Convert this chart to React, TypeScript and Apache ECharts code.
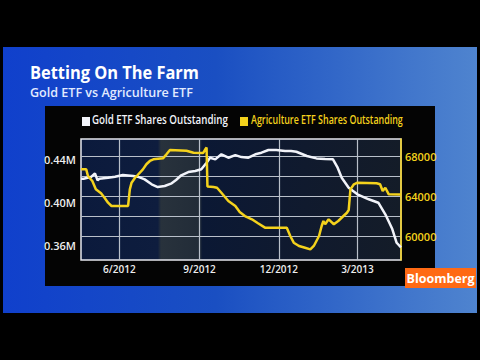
import React, { useEffect, useRef } from "react";
import * as echarts from "echarts";

const goldDates = [
  "2012-04-18", "2012-04-21", "2012-04-30", "2012-05-04", "2012-05-07", "2012-05-09", "2012-05-19", "2012-05-27",
  "2012-06-05", "2012-06-17", "2012-06-22", "2012-06-30", "2012-07-08", "2012-07-15", "2012-07-23", "2012-07-31",
  "2012-08-05", "2012-08-11", "2012-08-19", "2012-08-27", "2012-09-03", "2012-09-09", "2012-09-13", "2012-09-19",
  "2012-09-26", "2012-10-04", "2012-10-12", "2012-10-19", "2012-10-27", "2012-11-04", "2012-11-11", "2012-11-19",
  "2012-11-28", "2012-12-08", "2012-12-15", "2012-12-21", "2013-01-02", "2013-01-13", "2013-01-23", "2013-02-01",
  "2013-02-06", "2013-02-11", "2013-02-19", "2013-03-01", "2013-03-14", "2013-03-25", "2013-04-02", "2013-04-10",
  "2013-04-15", "2013-04-20",
];
const goldValues = [
  0.4219, 0.4219, 0.4238, 0.4269, 0.4204, 0.4219, 0.4228, 0.4238,
  0.4253, 0.4244, 0.4238, 0.4213, 0.4167, 0.4141, 0.4151, 0.4176,
  0.4207, 0.4251, 0.4281, 0.4291, 0.4307, 0.4368, 0.4415, 0.44,
  0.4447, 0.4415, 0.444, 0.4421, 0.4415, 0.4447, 0.4462, 0.4487,
  0.4487, 0.4477, 0.4477, 0.4471, 0.4431, 0.4409, 0.4403, 0.44,
  0.4328, 0.4228, 0.4135, 0.4073, 0.4027, 0.3995, 0.3887, 0.3749,
  0.3621, 0.3577,
];

const agriDates = [
  "2012-04-18", "2012-04-24", "2012-04-26", "2012-05-01", "2012-05-05", "2012-05-11", "2012-05-15", "2012-05-19",
  "2012-05-23", "2012-06-11", "2012-06-13", "2012-06-15", "2012-06-19", "2012-06-22", "2012-06-28", "2012-07-02",
  "2012-07-06", "2012-07-10", "2012-07-21", "2012-07-25", "2012-07-29", "2012-08-17", "2012-08-25", "2012-09-05",
  "2012-09-08", "2012-09-09", "2012-09-10", "2012-09-17", "2012-09-21", "2012-09-26", "2012-10-04", "2012-10-12",
  "2012-10-17", "2012-10-23", "2012-10-31", "2012-11-07", "2012-11-15", "2012-12-10", "2012-12-14", "2012-12-18",
  "2012-12-24", "2012-12-30", "2013-01-06", "2013-01-10", "2013-01-16", "2013-01-19", "2013-01-21", "2013-01-23",
  "2013-01-27", "2013-02-02", "2013-02-07", "2013-02-13", "2013-02-17", "2013-02-19", "2013-02-21", "2013-02-25",
  "2013-03-01", "2013-03-23", "2013-03-27", "2013-03-30", "2013-04-02", "2013-04-06", "2013-04-20",
];
const agriValues = [
  66730, 66730, 66060, 65560, 64720, 64320, 63880, 63380,
  63050, 63050, 64720, 65390, 65890, 66160, 66730, 67240,
  67570, 67740, 67840, 68240, 68670, 68600, 68400, 68370,
  68800, 68930, 65000, 64960, 64880, 64380, 63550, 63050,
  62440, 62040, 61710, 61310, 60870, 60870, 60030, 59360,
  59030, 58880, 58690, 59030, 60030, 61040, 61540, 61210,
  61710, 61210, 61540, 62040, 62370, 62640, 64720, 65230,
  65390, 65330, 65230, 64550, 64880, 64220, 64200,
];

const xRange = ["2012-04-18", "2013-04-20"];
const xTickDates = ["2012-06-01", "2012-09-01", "2012-12-01", "2013-03-01"];
const xTickLabels = ["6/2012", "9/2012", "12/2012", "3/2013"];
const leftTicks = [0.36, 0.4, 0.44];
const rightGridTicks = [60000, 62000, 64000, 66000, 68000];
const rightLabelTicks = [60000, 64000, 68000];

const titleText = "Betting On The Farm";
const subtitleText = "Gold ETF vs Agriculture ETF";
const goldName = "Gold ETF Shares Outstanding";
const agriName = "Agriculture ETF Shares Outstanding";
const brandText = "Bloomberg";

const WHITE = "#f2f4fa";
const YELLOW = "#f4d21c";

const ts = (d: string) => Date.UTC(+d.slice(0, 4), +d.slice(5, 7) - 1, +d.slice(8, 10));

export default function App() {
  const ref = useRef<HTMLDivElement>(null);
  useEffect(() => {
    if (!ref.current) return;
    const chart = echarts.init(ref.current, null, { renderer: "svg" });
    const xTickTs = xTickDates.map(ts);
    const labelMap: Record<number, string> = {};
    xTickTs.forEach((t, i) => (labelMap[t] = xTickLabels[i]));
    const font = "'Open Sans', 'Noto Sans', sans-serif";
    const measure = (text: string, f: string) => {
      const c = document.createElement("canvas").getContext("2d");
      if (!c) return 0;
      c.font = f;
      return c.measureText(text).width;
    };
    const legendFont = `600 12px ${font}`;
    const goldW = measure(goldName, legendFont);
    const agriW = measure(agriName, legendFont);
    const titleFont = `bold 17px ${font}`;
    const titleW = measure(titleText, titleFont);
    const subFont = `600 12.5px ${font}`;
    const subW = measure(subtitleText, subFont);
    chart.setOption({
      animation: false,
      backgroundColor: "#000",
      textStyle: { fontFamily: font },
      graphic: [
        {
          type: "rect",
          z: -10,
          shape: { x: 3, y: 47, width: 474, height: 266 },
          style: {
            fill: new echarts.graphic.LinearGradient(0, 0, 1, 0, [
              { offset: 0, color: "#1040cc" },
              { offset: 0.45, color: "#1a4fc2" },
              { offset: 1, color: "#4f84cf" },
            ]),
          },
        },
        {
          type: "rect",
          z: -9,
          shape: { x: 45, y: 106, width: 390, height: 180 },
          style: { fill: "#040404" },
        },
        {
          type: "text",
          x: 30,
          y: 64,
          scaleX: titleW ? 169 / titleW : 1,
          style: { text: titleText, fill: "#ffffff", font: titleFont },
        },
        {
          type: "text",
          x: 30,
          y: 86,
          scaleX: subW ? 163 / subW : 1,
          style: { text: subtitleText, fill: "#e2ebff", font: subFont },
        },
        {
          type: "rect",
          shape: { x: 82, y: 117, width: 8, height: 9 },
          style: { fill: WHITE },
        },
        {
          type: "text",
          x: 92,
          y: 113,
          scaleX: goldW ? 136 / goldW : 1,
          style: { text: goldName, fill: WHITE, font: legendFont },
        },
        {
          type: "rect",
          shape: { x: 240, y: 117, width: 8, height: 9 },
          style: { fill: YELLOW },
        },
        {
          type: "text",
          x: 251,
          y: 113,
          scaleX: agriW ? 152 / agriW : 1,
          style: { text: agriName, fill: YELLOW, font: legendFont },
        },
        {
          type: "rect",
          shape: { x: 405, y: 268, width: 71, height: 20 },
          style: { fill: "#ff6a14" },
        },
        {
          type: "text",
          x: 440.5,
          y: 278,
          style: {
            text: brandText,
            fill: "#ffffff",
            font: `bold 12.5px ${font}`,
            align: "center",
            verticalAlign: "middle",
          },
        },
      ],
      grid: {
        left: 81,
        top: 139,
        width: 320,
        height: 121,
        show: true,
        backgroundColor: new echarts.graphic.LinearGradient(0, 0, 1, 0, [
          { offset: 0, color: "#0b1a3c" },
          { offset: 0.24, color: "#0e1d3e" },
          { offset: 0.25, color: "#28323c" },
          { offset: 0.37, color: "#222c38" },
          { offset: 0.38, color: "#0b1834" },
          { offset: 0.7, color: "#101a2e" },
          { offset: 1, color: "#141c28" },
        ]),
        borderColor: "#e6e8ee",
        borderWidth: 1.5,
      },
      xAxis: {
        type: "value",
        min: ts(xRange[0]),
        max: ts(xRange[1]),
        axisLine: { show: false },
        axisTick: { show: false, customValues: xTickTs },
        splitLine: { show: true, lineStyle: { color: "#b9c0ca", width: 1.2 } },
        axisLabel: {
          customValues: xTickTs,
          formatter: (v: number) => labelMap[v] ?? "",
          color: "#eeeeee",
          fontSize: 10,
          fontWeight: 600,
          margin: 4,
        },
      },
      yAxis: [
        {
          type: "value",
          min: 0.346,
          max: 0.459,
          axisLine: { show: false },
          axisTick: { show: false, customValues: leftTicks },
          splitLine: { show: false },
          axisLabel: {
            customValues: leftTicks,
            formatter: (v: number) => v.toFixed(2) + "M",
            color: "#eeeeee",
            fontSize: 11,
            fontWeight: 600,
            margin: 5,
          },
        },
        {
          type: "value",
          position: "right",
          min: 57620,
          max: 69780,
          axisLine: { show: true, lineStyle: { color: YELLOW, width: 1.5 } },
          axisTick: { show: false, customValues: rightGridTicks },
          splitLine: { show: true, lineStyle: { color: "#b9c0ca", width: 1.2 } },
          axisLabel: {
            customValues: rightLabelTicks,
            formatter: (v: number) => String(v),
            color: YELLOW,
            fontSize: 11,
            fontWeight: 600,
            margin: 4,
          },
        },
      ],
      series: [
        {
          name: goldName,
          type: "line",
          yAxisIndex: 0,
          showSymbol: false,
          data: goldDates.map((d, i) => [ts(d), goldValues[i]]),
          lineStyle: { color: WHITE, width: 2.5 },
          z: 3,
        },
        {
          name: agriName,
          type: "line",
          yAxisIndex: 1,
          showSymbol: false,
          data: agriDates.map((d, i) => [ts(d), agriValues[i]]),
          lineStyle: { color: YELLOW, width: 2.5 },
          z: 4,
        },
      ],
    });
    return () => chart.dispose();
  }, []);
  return (
    <div
      ref={ref}
      style={{ position: "fixed", left: 0, top: 0, width: 480, height: 360 }}
    />
  );
}
